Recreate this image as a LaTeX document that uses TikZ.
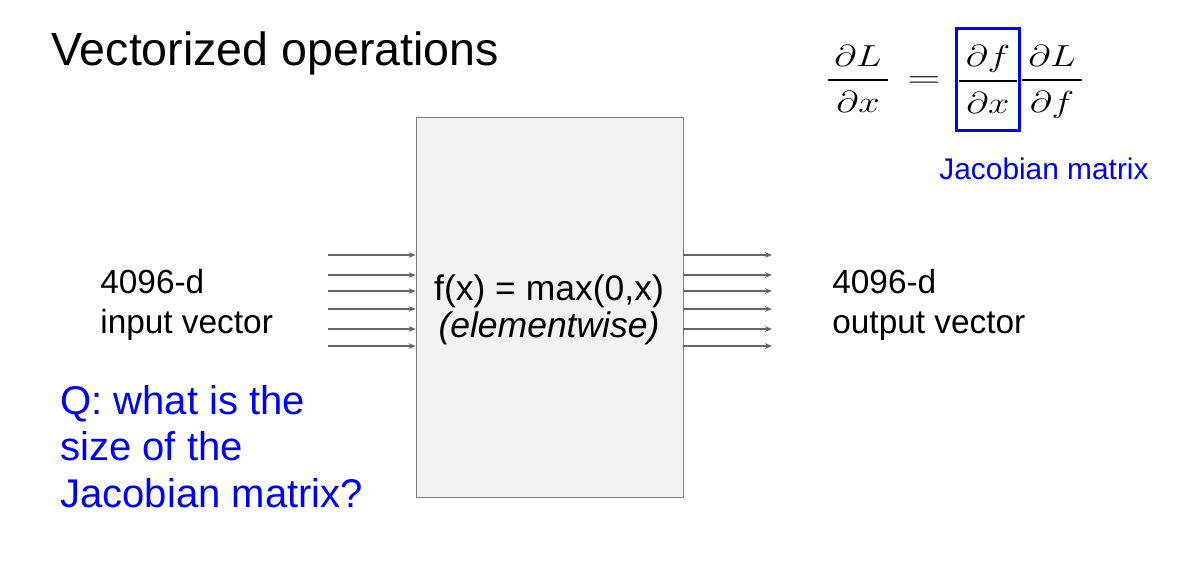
\documentclass[tikz,border=0pt]{standalone}
\usepackage{amsmath}
\usepackage{graphicx}
\usepackage{fontspec}
\setmainfont{Liberation Sans}
\usetikzlibrary{arrows.meta}
\newcommand{\pfrac}[2]{\scalebox{1.26}[1]{$\genfrac{}{}{1.3pt}{0}{\rule[-3pt]{0pt}{0pt}\,#1\,}{\rule{0pt}{13.8pt}#2}$}}

\begin{document}
\begin{tikzpicture}[x=0.02cm, y=-0.02cm, >=Stealth,
  lbl/.style={inner sep=0pt, align=left, font=\fontsize{19}{22.7}\selectfont},
  qtext/.style={inner sep=0pt, align=left, text=blue, font=\fontsize{22.8}{26.4}\selectfont},
  eq/.style={inner sep=0pt, font=\fontsize{16}{19}\selectfont},
  wire/.style={->, black!60, line width=0.6pt, >={Stealth[length=4pt,width=3.2pt]}}]
  \useasboundingbox (0,0) rectangle (1194,586);
  \node[anchor=base west, inner sep=0pt, font=\fontsize{26.5}{30}\selectfont] (title) at (51,65) {Vectorized operations};

  \node[draw=black!50, fill=black!5, minimum width=5.34cm, minimum height=7.6cm, inner sep=0pt] (relu) at (549.5,307) {};
  \node[anchor=base, align=center, inner sep=0pt, font=\fontsize{20.2}{21}\selectfont] (fx) at (549,337) {f(x) = max(0,x)\\\textit{(elementwise)}};

  \foreach \y [count=\i] in {255,275,291,309,329,346} {
    \coordinate (in\i) at (328,\y);
    \coordinate (out\i) at (772,\y);
    \draw[wire] (in\i) -- (in\i -| relu.west);
    \draw[wire] (out\i -| relu.east) -- (out\i);
  }

  \node[lbl, anchor=base west] (input) at (100,333) {4096-d\\input vector};
  \node[lbl, anchor=base west] (output) at (832,333) {4096-d\\output vector};
  \node[qtext, anchor=base west] (question) at (60,507) {Q: what is the\\size of the\\Jacobian matrix?};

  \node[eq, anchor=base west] (dLdx) at (825,87.5) {\pfrac{\partial L}{\partial x}};
  \node[eq, anchor=base] (equal) at (924,87.5) {\scalebox{1.5}[1]{$=$}};
  \node[eq, draw=blue, line width=1.7pt, minimum width=1.22cm, minimum height=2.04cm] (dfdx) at (988,79.5) {\pfrac{\partial f}{\partial x}};
  \node[eq, anchor=base west] (dLdf) at (1019,87.5) {\pfrac{\partial L}{\partial f}};
  \node[anchor=base, inner sep=0pt, text=blue, font=\fontsize{17}{20}\selectfont] (jac) at (1044,179) {Jacobian matrix};
\end{tikzpicture}
\end{document}
